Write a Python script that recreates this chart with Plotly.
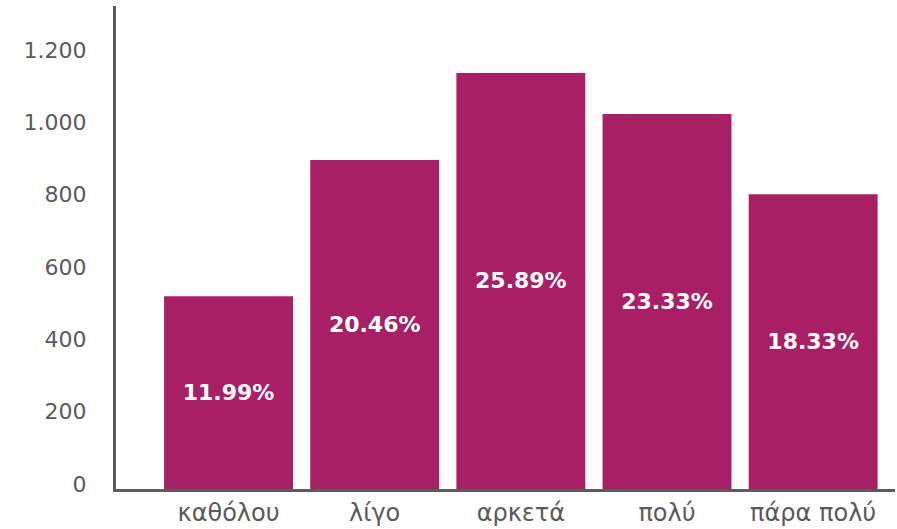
import plotly.graph_objects as go

categories = ["καθόλου", "λίγο", "αρκετά", "πολύ", "πάρα πολύ"]
counts = [533, 910, 1151, 1037, 815]
percent_labels = ["11.99%", "20.46%", "25.89%", "23.33%", "18.33%"]
y_ticks = [0, 200, 400, 600, 800, 1000, 1200]
y_tick_labels = ["0", "200", "400", "600", "800", "1.000", "1.200"]

BAR_COLOR = "#a81f66"
AXIS_COLOR = "#5c5c5c"
TEXT_COLOR = "#5a5a5a"
FONT = "'DejaVu Sans', sans-serif"

fig = go.Figure(
    go.Bar(
        x=categories,
        y=counts,
        text=percent_labels,
        textposition="inside",
        insidetextanchor="middle",
        textangle=0,
        textfont=dict(family=FONT, size=22, color="white", weight="bold"),
        marker=dict(color=BAR_COLOR, line=dict(width=0)),
        hoverinfo="skip",
    )
)

fig.update_layout(
    width=897,
    height=529,
    margin=dict(l=116, r=2, t=6, b=40),
    plot_bgcolor="white",
    paper_bgcolor="white",
    bargap=0.118,
    showlegend=False,
    font=dict(family=FONT, color=TEXT_COLOR, size=20),
)

fig.update_xaxes(
    type="category",
    range=[-0.77, 4.56],
    automargin=False,
    showline=True,
    linecolor=AXIS_COLOR,
    linewidth=3,
    showgrid=False,
    zeroline=False,
    ticks="",
    ticklabelstandoff=0,
    tickfont=dict(family=FONT, size=24, color=TEXT_COLOR),
)

fig.update_yaxes(
    range=[0, 1336],
    automargin=False,
    tickmode="array",
    tickvals=y_ticks,
    ticktext=y_tick_labels,
    showline=True,
    linecolor=AXIS_COLOR,
    linewidth=3,
    showgrid=False,
    zeroline=False,
    ticks="",
    ticklabelstandoff=22,
    ticklabelshift=-5,
    tickfont=dict(family=FONT, size=22, color=TEXT_COLOR),
)

fig.write_html(
    "out.html",
    config={"displayModeBar": False},
    post_script="document.body.style.margin='0';document.body.style.padding='0';",
)
